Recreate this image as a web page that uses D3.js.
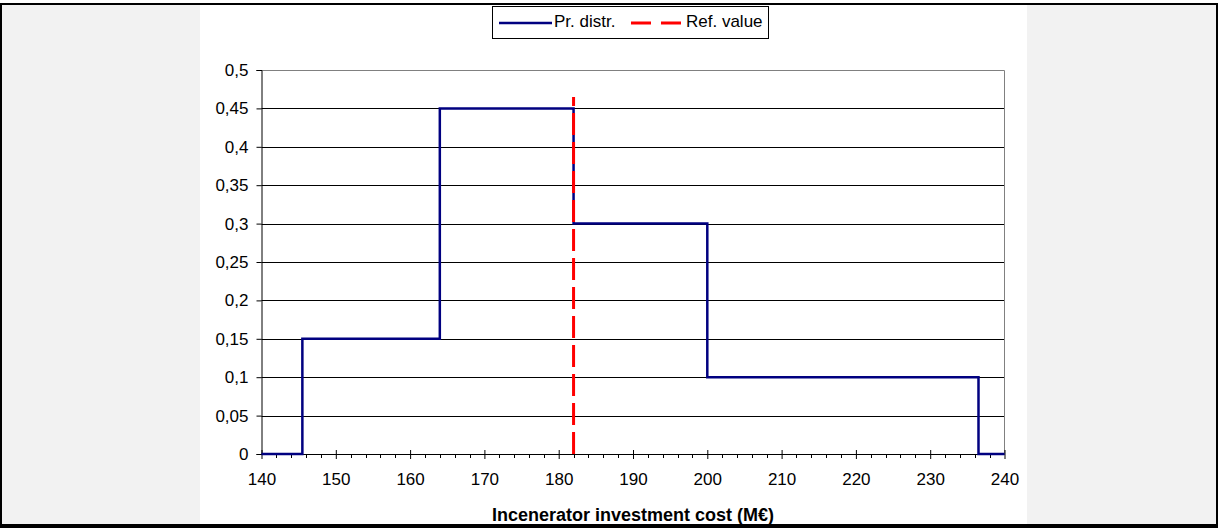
<!DOCTYPE html>
<html>
<head>
<meta charset="utf-8">
<script src="https://cdnjs.cloudflare.com/ajax/libs/d3/7.8.5/d3.min.js"></script>
<style>
  body { margin: 0; background: #fff; }
  svg { display: block; font-family: "Liberation Sans", Arial, sans-serif; }
</style>
</head>
<body>
<div id="chart"></div>
<script>
// step edges and probability of each bin
var binEdges = [140, 145.5, 164, 182, 200, 236.5, 240];
var binProbs = [0, 0.15, 0.45, 0.3, 0.1, 0];
var refValue = 182;
var refTop = 0.465;
var xTicks = [140, 150, 160, 170, 180, 190, 200, 210, 220, 230, 240];
var yTicks = [0, 0.05, 0.1, 0.15, 0.2, 0.25, 0.3, 0.35, 0.4, 0.45, 0.5];
var legendLabels = ["Pr. distr.", "Ref. value"];

var W = 1218, H = 528;

var svg = d3.select("#chart")
  .append("svg")
  .attr("width", W)
  .attr("height", H);

// grey side panels and frame
svg.append("rect").attr("x", 0).attr("y", 0).attr("width", W).attr("height", H).attr("fill", "#fff");
svg.append("rect").attr("x", 2).attr("y", 5).attr("width", 198).attr("height", 519).attr("fill", "#f2f2f2");
svg.append("rect").attr("x", 1027).attr("y", 5).attr("width", 189).attr("height", 519).attr("fill", "#f2f2f2");

var x = d3.scaleLinear().domain([140, 240]).range([261.5, 1004.5]);
var y = d3.scaleLinear().domain([0, 0.5]).range([454, 70]);

var fmt = function(d) { return String(d).replace(".", ","); };

// horizontal grid
svg.append("g")
  .selectAll("line")
  .data(yTicks.filter(function(d) { return d > 0 && d < 0.5; }))
  .enter()
  .append("line")
    .attr("x1", x(140)).attr("x2", x(240))
    .attr("y1", function(d) { return Math.round(y(d)) + 0.5; })
    .attr("y2", function(d) { return Math.round(y(d)) + 0.5; })
    .attr("stroke", "#000")
    .attr("stroke-width", 1);

// plot border top / right (grey)
svg.append("path")
  .attr("d", "M" + x(140) + "," + (y(0.5) + 0.5) + "H" + x(240) + "V" + y(0))
  .attr("fill", "none")
  .attr("stroke", "#808080")
  .attr("stroke-width", 1);

// y axis
var yAxis = svg.append("g")
  .attr("transform", "translate(" + x(140) + ",0)")
  .call(d3.axisLeft(y).tickValues(yTicks).tickFormat(fmt).tickSize(5).tickPadding(8));
yAxis.select(".domain").attr("stroke", "#000");
yAxis.selectAll(".tick line").attr("stroke", "#000");
yAxis.selectAll("text").style("font-size", "17px").attr("fill", "#000");

// x axis minor ticks (every 2)
var minor = d3.range(142, 240, 2).filter(function(d) { return d % 10 !== 0; });
svg.append("g")
  .selectAll("line")
  .data(minor)
  .enter()
  .append("line")
    .attr("x1", function(d) { return Math.round(x(d)) + 0.5; })
    .attr("x2", function(d) { return Math.round(x(d)) + 0.5; })
    .attr("y1", y(0))
    .attr("y2", y(0) + 4)
    .attr("stroke", "#000");

// x axis
var xAxis = svg.append("g")
  .attr("transform", "translate(0," + y(0) + ")")
  .call(d3.axisBottom(x).tickValues(xTicks).tickFormat(d3.format("d")).tickSize(5).tickPadding(14));
xAxis.select(".domain").attr("stroke", "#000").attr("d", "M" + x(140) + ",0.5H" + x(240));
xAxis.selectAll(".tick line").attr("y1", -4).attr("stroke", "#000");
xAxis.selectAll("text").style("font-size", "17px").attr("fill", "#000");

// axis title
svg.append("text")
  .attr("x", (x(140) + x(240)) / 2)
  .attr("y", 521)
  .attr("text-anchor", "middle")
  .style("font-size", "18px")
  .style("font-weight", "bold")
  .text("Incenerator investment cost (M€)");

// step line
var pts = binEdges.map(function(e, i) {
  return [e, i < binProbs.length ? binProbs[i] : 0];
});
var line = d3.line()
  .x(function(d) { return x(d[0]); })
  .y(function(d) { return y(d[1]); })
  .curve(d3.curveStepAfter);
svg.append("path")
  .datum(pts)
  .attr("d", line)
  .attr("fill", "none")
  .attr("stroke", "#000080")
  .attr("stroke-width", 2.5);

// reference value
svg.append("line")
  .attr("x1", x(refValue)).attr("x2", x(refValue))
  .attr("y1", y(0)).attr("y2", y(refTop))
  .attr("stroke", "#ff0000")
  .attr("stroke-width", 3)
  .attr("stroke-dasharray", "22,7");

// frame on top
svg.append("rect").attr("x", 0).attr("y", 3).attr("width", W).attr("height", 2).attr("fill", "#000");
svg.append("rect").attr("x", 0).attr("y", 524).attr("width", W).attr("height", 4).attr("fill", "#000");
svg.append("rect").attr("x", 0).attr("y", 3).attr("width", 2).attr("height", 525).attr("fill", "#000");
svg.append("rect").attr("x", 1216).attr("y", 3).attr("width", 2).attr("height", 525).attr("fill", "#000");

// legend
var lg = svg.append("g");
lg.append("rect")
  .attr("x", 492.5).attr("y", 6.5).attr("width", 276).attr("height", 32)
  .attr("fill", "#fff").attr("stroke", "#000").attr("stroke-width", 1);
lg.append("line")
  .attr("x1", 499).attr("x2", 552).attr("y1", 23).attr("y2", 23)
  .attr("stroke", "#000080").attr("stroke-width", 2.5);
lg.append("text").attr("x", 554).attr("y", 27).style("font-size", "17px").text(legendLabels[0]);
lg.append("line")
  .attr("x1", 631).attr("x2", 681).attr("y1", 23).attr("y2", 23)
  .attr("stroke", "#ff0000").attr("stroke-width", 3).attr("stroke-dasharray", "20,10");
lg.append("text").attr("x", 686).attr("y", 27).style("font-size", "17px").text(legendLabels[1]);
</script>
</body>
</html>
